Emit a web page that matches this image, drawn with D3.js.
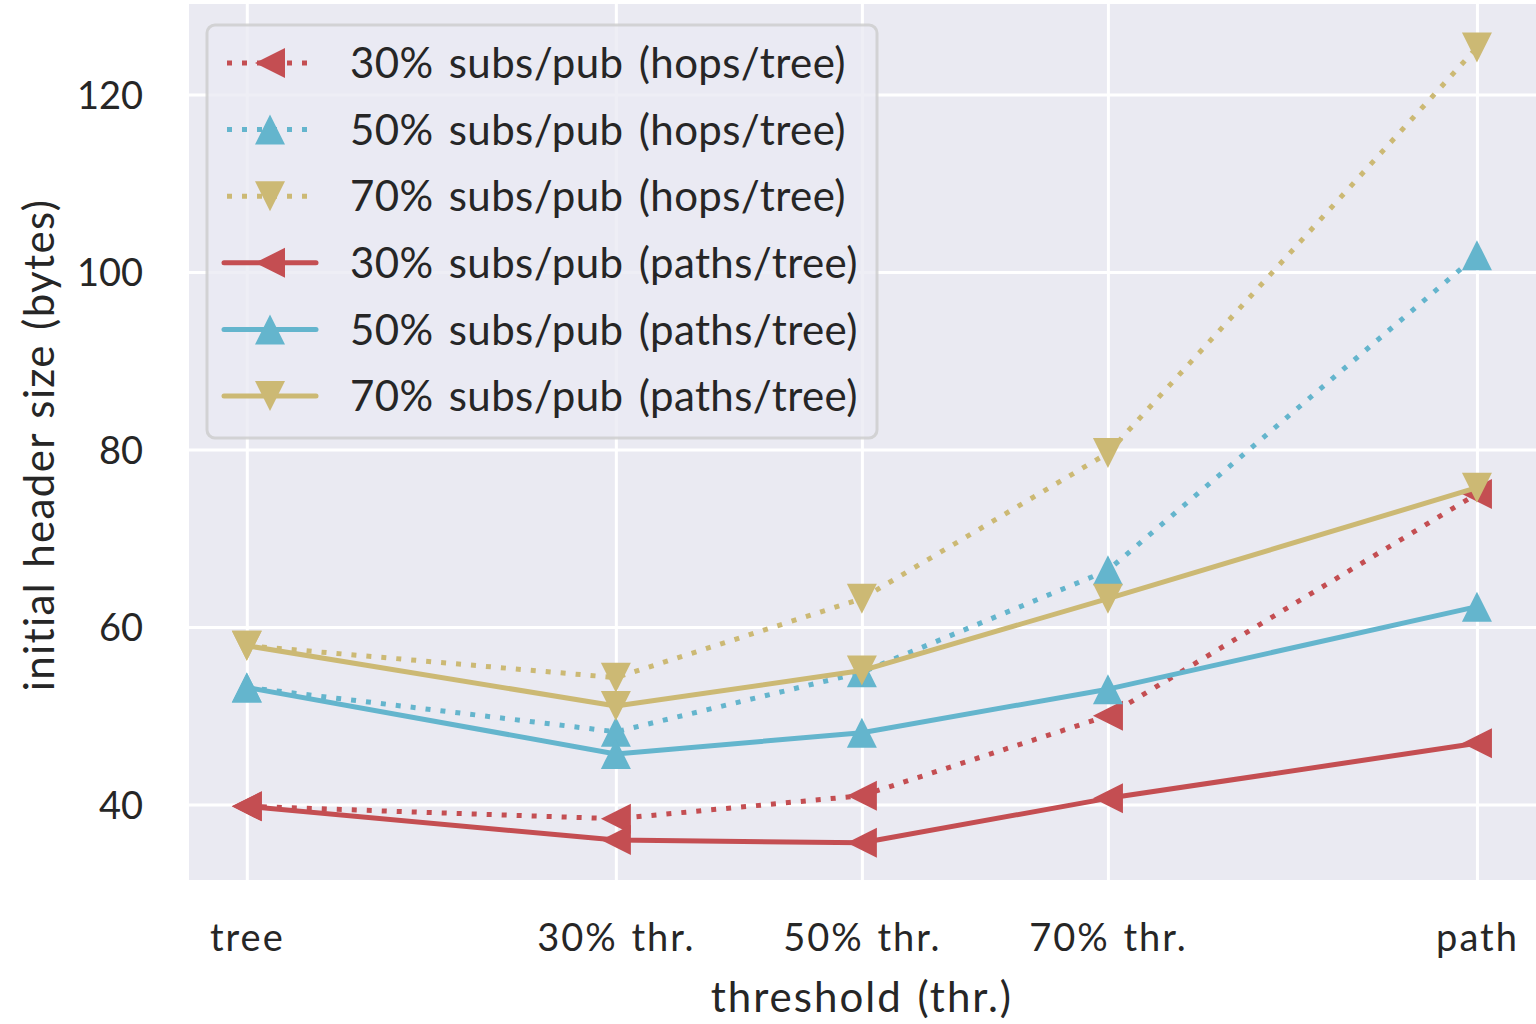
<!DOCTYPE html>
<html><head><meta charset="utf-8">
<script src="https://cdn.jsdelivr.net/npm/d3@7"></script>
<style>
body{margin:0;background:#fff}
text{font-family:Lato,'Open Sans',sans-serif;fill:#262626}
</style>
</head><body>
<svg id="chart" width="1536" height="1024"></svg>
<script>
// ---- data ----
const xPositions = [0, 30, 50, 70, 100];
const xTickLabels = ["tree", "30% thr.", "50% thr.", "70% thr.", "path"];
const yTicks = [40, 60, 80, 100, 120];
const seriesNames = [
  "30% subs/pub (hops/tree)", "50% subs/pub (hops/tree)", "70% subs/pub (hops/tree)",
  "30% subs/pub (paths/tree)", "50% subs/pub (paths/tree)", "70% subs/pub (paths/tree)"
];
const hops30  = [39.8, 38.4, 41.0, 50.0, 75.0];
const hops50  = [53.2, 48.2, 54.9, 66.4, 101.9];
const hops70  = [57.9, 54.3, 63.2, 79.6, 125.3];
const paths30 = [39.8, 36.0, 35.7, 40.7, 46.9];
const paths50 = [53.2, 45.7, 48.1, 53.0, 62.3];
const paths70 = [57.9, 51.1, 55.1, 63.2, 75.7];
const xLabel = "threshold (thr.)";
const yLabel = "initial header size (bytes)";

// ---- styling ----
const colors = ["#C44E52", "#64B5CD", "#CCB974"];
const markers = ["left", "up", "down"];
const seriesValues = [hops30, hops50, hops70, paths30, paths50, paths70];
const series = seriesValues.map((vals, i) => ({
  name: seriesNames[i], values: vals,
  color: colors[i % 3], marker: markers[i % 3], dotted: i < 3
}));

const svg = d3.select("#chart");
const plot = {left: 189, right: 1536, top: 4, bottom: 880};
const x = d3.scaleLinear().domain([-4.7, 104.8]).range([plot.left, plot.right]);
const y = d3.scaleLinear().domain([31.5, 130.2]).range([plot.bottom, plot.top]);

svg.append("rect").attr("x", plot.left).attr("y", plot.top)
  .attr("width", plot.right - plot.left).attr("height", plot.bottom - plot.top)
  .attr("fill", "#EAEAF2");

svg.append("defs").append("clipPath").attr("id", "clip").append("rect")
  .attr("x", plot.left).attr("y", plot.top)
  .attr("width", plot.right - plot.left).attr("height", plot.bottom - plot.top);

// grid via axes
const gx = svg.append("g").attr("transform", `translate(0,${plot.bottom})`)
  .call(d3.axisBottom(x).tickValues(xPositions).tickFormat((d, i) => xTickLabels[i])
    .tickSize(-(plot.bottom - plot.top)).tickPadding(44));
const gy = svg.append("g").attr("transform", `translate(${plot.left},0)`)
  .call(d3.axisLeft(y).tickValues(yTicks).tickFormat(d3.format("d"))
    .tickSize(-(plot.right - plot.left)).tickPadding(46));
[gx, gy].forEach(g => {
  g.select(".domain").remove();
  g.selectAll(".tick line").attr("stroke", "#fff").attr("stroke-width", 3);
  g.selectAll(".tick text").style("font-size", "38px").attr("fill", "#262626");
});
gx.selectAll(".tick text").attr("dy", "0.71em")
  .style("letter-spacing", "2px").style("word-spacing", "2px");
gy.selectAll(".tick text").attr("dy", "0.36em");

function trianglePath(type, s) {
  const h = s / 2;
  if (type === "left") return `M${-h},0L${h},${-h}L${h},${h}Z`;
  if (type === "up") return `M0,${-h}L${-h},${h}L${h},${h}Z`;
  return `M0,${h}L${-h},${-h}L${h},${-h}Z`;
}

const line = d3.line().x((d, i) => x(xPositions[i])).y(d => y(d));
const mSize = 30;

series.forEach(s => {
  const g = svg.append("g");
  g.append("path").attr("d", line(s.values)).attr("fill", "none")
    .attr("stroke", s.color).attr("stroke-width", 5)
    .attr("clip-path", "url(#clip)")
    .attr("stroke-dasharray", s.dotted ? "5,10" : null)
    .attr("stroke-linejoin", "round");
  g.selectAll("path.m").data(s.values).join("path").attr("class", "m")
    .attr("transform", (d, i) => `translate(${x(xPositions[i])},${y(d)})`)
    .attr("d", trianglePath(s.marker, mSize)).attr("fill", s.color);
});

// legend
const lg = svg.append("g");
lg.append("rect").attr("x", 207).attr("y", 25).attr("width", 670).attr("height", 413)
  .attr("rx", 8).attr("fill", "#EAEAF2").attr("fill-opacity", 0.8)
  .attr("stroke", "#cccccc").attr("stroke-opacity", 0.8).attr("stroke-width", 3);
series.forEach((s, i) => {
  const cy = 63 + i * 66.6;
  lg.append("line").attr("x1", s.dotted ? 227 : 224).attr("x2", 316).attr("y1", cy).attr("y2", cy)
    .attr("stroke", s.color).attr("stroke-width", 5)
    .attr("stroke-dasharray", s.dotted ? "5,10" : null)
    .attr("stroke-linecap", s.dotted ? "butt" : "round");
  lg.append("path").attr("transform", `translate(270,${cy})`)
    .attr("d", trianglePath(s.marker, mSize)).attr("fill", s.color);
  lg.append("text").attr("x", 350).attr("y", cy).attr("dy", "0.36em")
    .style("font-size", "42px").style("word-spacing", "4px").style("letter-spacing", "0.4px")
    .text(s.name);
});

svg.append("text").attr("x", x(50)).attr("y", 1012).attr("text-anchor", "middle")
  .style("font-size", "42px").style("letter-spacing", "2px").style("word-spacing", "2px")
  .text(xLabel);
svg.append("text").attr("transform", "translate(54,445) rotate(-90)")
  .attr("text-anchor", "middle").style("font-size", "42px")
  .style("letter-spacing", "1.4px").style("word-spacing", "2px").text(yLabel);
</script>
</body></html>
